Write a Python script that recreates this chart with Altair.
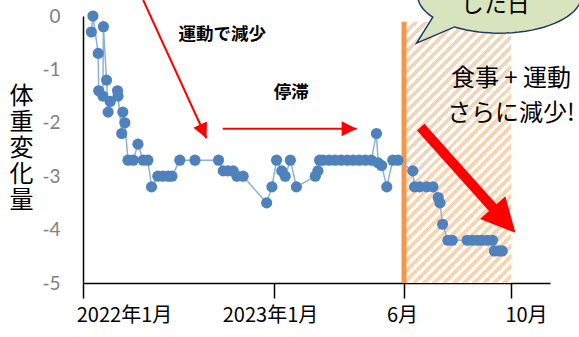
import math
import altair as alt
import pandas as pd

# ---------------- data ----------------
dates_2022 = ["2022-01-17", "2022-01-20", "2022-01-30", "2022-01-31", "2022-02-08", "2022-02-09",
              "2022-02-15", "2022-02-18", "2022-02-22", "2022-03-08", "2022-03-09", "2022-03-16",
              "2022-03-18", "2022-03-22", "2022-03-28", "2022-04-07", "2022-04-16", "2022-04-26",
              "2022-05-05", "2022-05-12", "2022-05-24", "2022-06-03", "2022-06-13", "2022-06-20",
              "2022-07-05", "2022-08-03", "2022-09-17", "2022-09-26", "2022-10-05", "2022-10-15",
              "2022-10-22", "2022-11-03", "2022-12-18", "2022-12-28"]
values_2022 = [-0.3, 0.0, -0.7, -1.4, -1.5, -0.2,
               -1.2, -1.8, -1.6, -1.4, -1.5, -2.2,
               -1.8, -2.0, -2.7, -2.7, -2.4, -2.7,
               -2.7, -3.2, -3.0, -3.0, -3.0, -3.0,
               -2.7, -2.7, -2.7, -2.9, -2.9, -2.9,
               -3.0, -3.0, -3.5, -3.2]
dates_2023 = ["2023-01-04", "2023-01-10", "2023-01-14", "2023-01-20", "2023-01-27", "2023-02-18",
              "2023-02-21", "2023-02-23", "2023-02-27", "2023-03-06", "2023-03-13", "2023-03-20",
              "2023-03-27", "2023-04-03", "2023-04-10", "2023-04-17", "2023-04-24", "2023-04-30",
              "2023-05-02", "2023-05-06", "2023-05-12", "2023-05-19", "2023-05-25", "2023-06-11",
              "2023-06-13", "2023-06-19", "2023-06-27", "2023-07-04", "2023-07-10", "2023-07-12",
              "2023-07-15", "2023-07-21", "2023-07-26", "2023-08-12", "2023-08-18", "2023-08-24",
              "2023-08-29", "2023-09-04", "2023-09-10", "2023-09-12", "2023-09-17", "2023-09-21"]
values_2023 = [-2.7, -2.9, -3.0, -2.7, -3.2, -3.0,
               -2.9, -2.7, -2.7, -2.7, -2.7, -2.7,
               -2.7, -2.7, -2.7, -2.7, -2.7, -2.2,
               -2.75, -2.8, -3.2, -2.7, -2.7, -2.9,
               -3.2, -3.2, -3.2, -3.2, -3.4, -3.5,
               -3.9, -4.2, -4.2, -4.2, -4.2, -4.2,
               -4.2, -4.2, -4.2, -4.4, -4.4, -4.4]

y_ticks = [0, -1, -2, -3, -4, -5]
x_tick_dates = [(2022, 1), (2023, 1), (2023, 6), (2023, 10)]

# diet + exercise period
period_start = "2023-06-01"
period_end = "2023-10-01"
period_top = -0.11

# annotation texts
ann_exercise = {"label": ["運動で減少"], "date": ["2022-09-24"], "value": [-0.36]}
ann_plateau = {"label": ["停滞"], "date": ["2023-01-21"], "value": [-1.44]}
ann_diet = {"label": ["食事 + 運動", "さらに減少!"], "date": ["2023-10-01", "2023-10-01"], "value": [-1.18, -1.84]}
ann_bubble = {"label": ["した日"], "date": ["2023-09-13"], "value": [0.21]}
bubble_center = {"date": ["2023-09-18"], "value": [0.39]}

# arrows: start -> end (end = tip for thin ones)
arrow1 = {"date": ["2022-04-26"], "value": [0.30], "date2": ["2022-08-25"], "value2": [-2.29]}
arrow2 = {"date": ["2022-09-25"], "value": [-2.11], "date2": ["2023-04-07"], "value2": [-2.11]}
arrow3 = {"date": ["2023-06-20"], "value": [-2.08], "date2": ["2023-09-14"], "value2": [-3.66]}
arrow3_tip = {"date": ["2023-10-06"], "value": [-4.06]}

# ---------------- scales ----------------
W, H = 467, 267
# piecewise time axis (as in the original figure): breakpoints and their pixel positions
x_breaks = "[utc(2022,0,1), utc(2023,0,1), utc(2023,5,1), utc(2023,9,1), utc(2023,10,14)]"
x_scale = alt.Scale(type="utc", domainRaw=alt.ExprRef(expr=x_breaks),
                    range=[0, 191, 321, 428, 467], nice=False)
y_scale = alt.Scale(domain=[-5, 0], nice=False, zero=False)

JP = "Noto Sans CJK JP"

x_axis = alt.Axis(
    values=[alt.DateTime(year=y, month=m, date=1, utc=True) for y, m in x_tick_dates],
    labelExpr="utcmonth(datum.value) == 0 ? utcyear(datum.value) + '年1月' : (utcmonth(datum.value) + 1) + '月'",
    title=None, grid=False,
    domainColor="black", domainWidth=1.5,
    tickColor="black", tickWidth=1.5, tickSize=15,
    labelColor="black", labelFont=JP, labelFontSize=20, labelPadding=7,
    labelOffset={"condition": [{"test": "utcyear(datum.value) == 2022", "value": 41},
                               {"test": "utcmonth(datum.value) == 9", "value": 15},
                               {"test": "utcmonth(datum.value) == 0", "value": -4}],
                 "value": -2},
    labelFlush=False, labelOverlap=False,
)
y_axis = alt.Axis(
    values=y_ticks, labelExpr="'' + datum.value",
    grid=False, ticks=False, tickSize=0,
    domainColor="black", domainWidth=1.5,
    labelColor="#808080", labelFont="Lato", labelFontSize=19, labelPadding=23,
    title=["体", "重", "変", "化", "量"], titleAngle=0, titleAlign="center", titleBaseline="top",
    titleX=-62, titleY=68, titleFont=JP, titleFontSize=24, titleLineHeight=26,
    titleFontWeight="normal", titleColor="black",
)


def X(f="date"):
    return alt.X(f"{f}:T", scale=x_scale, axis=x_axis)


def Y(f="value"):
    return alt.Y(f"{f}:Q", scale=y_scale, axis=y_axis)


# ---------------- hatch gradient ----------------
hatch_w = 107.0
hatch_h = H * (1 - (-period_top) / 5.0)
r = hatch_w / hatch_h
k = (r + 1) / (r * r + 1)
n_stripes = 37
stops = []
for i in range(n_stripes):
    a, b, c = i / n_stripes, (i + 0.5) / n_stripes, (i + 1) / n_stripes
    stops += [alt.GradientStop(offset=a, color="#FBD3B0"), alt.GradientStop(offset=b, color="#FBD3B0"),
              alt.GradientStop(offset=b, color="#FFFFFF"), alt.GradientStop(offset=c, color="#FFFFFF")]
hatch_fill = alt.LinearGradient(gradient="linear", stops=stops, x1=0, y1=0, x2=r * k, y2=k)

period_df = pd.DataFrame({"date": [period_start], "date2": [period_end],
                          "value": [-5], "value2": [period_top]})

hatch = alt.Chart(period_df).mark_rect(fill=hatch_fill, strokeWidth=0).encode(
    x=X(), x2="date2:T", y=Y(), y2="value2:Q")
orange = alt.Chart(period_df).mark_rule(color="#F79646", strokeWidth=5).encode(
    x=X(), y=Y(), y2="value2:Q")

# ---------------- series ----------------
df = pd.DataFrame({"date": dates_2022 + dates_2023, "value": values_2022 + values_2023})
base = alt.Chart(df)
line = base.mark_line(color="#8DB0DC", strokeWidth=1.5).encode(x=X(), y=Y())
pts = base.mark_point(filled=True, color="#4F81BD", size=125, opacity=1).encode(x=X(), y=Y())

# ---------------- arrows ----------------
HEAD = "M0,0L-0.5,1L0.5,1Z"


def arrow(d, width, head_len, angle, tip=None):
    dfa = pd.DataFrame(d)
    shaft = alt.Chart(dfa).mark_rule(color="#FF0000", strokeWidth=width, strokeCap="butt").encode(
        x=X(), y=Y(), x2="date2:T", y2="value2:Q")
    if tip is None:
        head_df = pd.DataFrame({"date": d["date2"], "value": d["value2"]})
    else:
        head_df = pd.DataFrame(tip)
    head = alt.Chart(head_df).mark_point(shape=HEAD, filled=True, color="#FF0000", opacity=1,
                                         size=4 * head_len * head_len, angle=angle,
                                         strokeWidth=0).encode(x=X(), y=Y())
    return shaft + head


a1 = arrow(arrow1, 2, 15, 155)
a2 = arrow(arrow2, 2, 15, 90)
a3 = arrow(arrow3, 10, 34, 138, tip=arrow3_tip)

# ---------------- texts ----------------
t_ex = alt.Chart(pd.DataFrame(ann_exercise)).mark_text(
    font=JP, fontSize=17.5, fontWeight="bold", color="black", align="center", baseline="middle"
).encode(x=X(), y=Y(), text="label:N")
t_pl = alt.Chart(pd.DataFrame(ann_plateau)).mark_text(
    font=JP, fontSize=17.5, fontWeight="bold", color="black", align="center", baseline="middle"
).encode(x=X(), y=Y(), text="label:N")
t_diet = alt.Chart(pd.DataFrame(ann_diet)).mark_text(
    font=JP, fontSize=24, color="black", align="center", baseline="middle"
).encode(x=X(), y=Y(), text="label:N")

# ---------------- speech bubble ----------------
S = 82.0  # px per unit of the symbol path
ry = 38.0 / S
tail = (-83.0 / S, 48.0 / S)
t0, t1 = 144.6, 483.3
pts_path = []
steps = 72
for i in range(steps + 1):
    t = math.radians(t0 + (t1 - t0) * i / steps)
    pts_path.append((math.cos(t), ry * math.sin(t)))
path = "M" + "L".join(f"{px:.4f},{py:.4f}" for px, py in pts_path) + f"L{tail[0]:.4f},{tail[1]:.4f}Z"
bubble = alt.Chart(pd.DataFrame(bubble_center)).mark_point(
    shape=path, filled=True, fill="#D7E4BD", stroke="#1F3864", strokeWidth=1.5, opacity=1,
    fillOpacity=1, strokeOpacity=1, size=4 * S * S
).encode(x=X(), y=Y())
t_bub = alt.Chart(pd.DataFrame(ann_bubble)).mark_text(
    font=JP, fontSize=23, color="black", align="center", baseline="middle"
).encode(x=X(), y=Y(), text="label:N")

chart = alt.layer(
    hatch, orange, line, pts, a1, a2, a3, t_ex, t_pl, t_diet, bubble, t_bub
).properties(
    width=W, height=H,
    autosize=alt.AutoSizeParams(type="none"),
    padding={"left": 83, "top": 16, "right": 29, "bottom": 54},
    background="white",
).configure_view(strokeWidth=0)

chart.save("out.html", embed_options={"renderer": "svg", "actions": False})
